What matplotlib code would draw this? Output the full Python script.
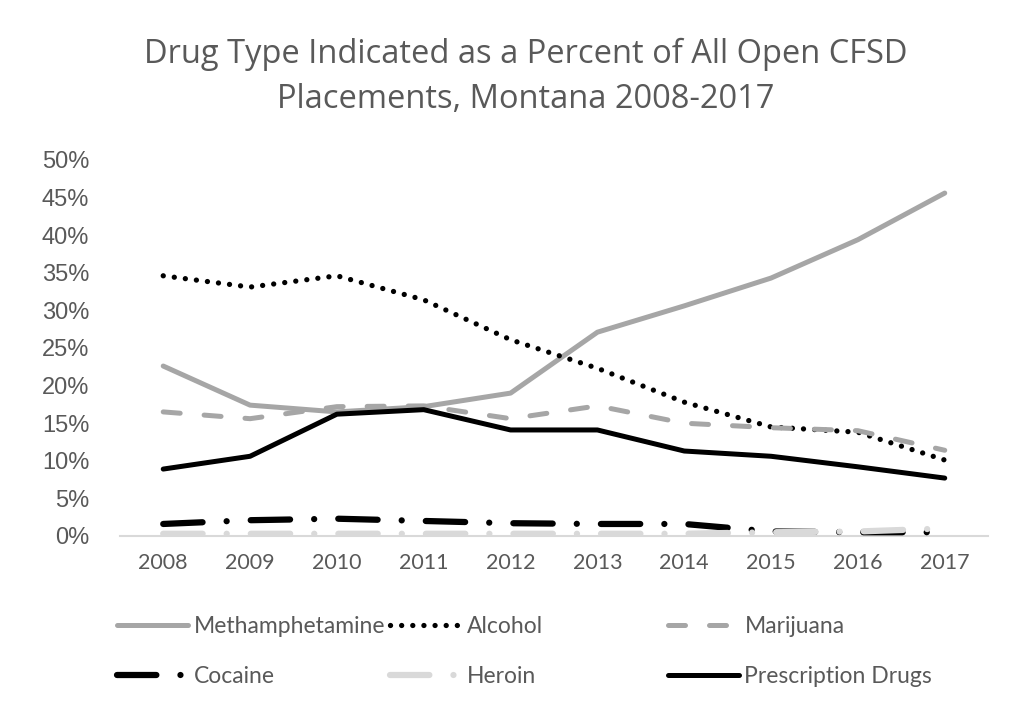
import matplotlib
matplotlib.use('Agg')
import matplotlib.pyplot as plt
from matplotlib.ticker import PercentFormatter

# data (percent of all open placements)
years = [2008, 2009, 2010, 2011, 2012, 2013, 2014, 2015, 2016, 2017]
meth = [22.6, 17.4, 16.5, 17.2, 19.0, 27.1, 30.6, 34.3, 39.4, 45.6]
alcohol = [34.6, 33.1, 34.6, 31.4, 26.1, 22.3, 17.8, 14.5, 13.8, 10.1]
marijuana = [16.5, 15.6, 17.2, 17.3, 15.6, 17.3, 15.0, 14.4, 14.0, 11.4]
cocaine = [1.6, 2.1, 2.3, 2.0, 1.7, 1.6, 1.6, 0.6, 0.5, 0.5]
heroin = [0.3, 0.3, 0.3, 0.3, 0.3, 0.3, 0.3, 0.5, 0.6, 1.0]
prescription = [8.9, 10.6, 16.2, 16.8, 14.1, 14.1, 11.3, 10.6, 9.2, 7.7]

TEXT = '#595959'
GRAY = '#a6a6a6'
LIGHT = '#d9d9d9'

fig = plt.figure(figsize=(10.24, 7.06), dpi=100)
ax = fig.add_axes([0.117, 0.2408, 0.848, 0.5326])

dashdot = (0, (6.3, 3.85, 0.01, 3.85))
l_meth, = ax.plot(years, meth, color=GRAY, lw=3.6, solid_capstyle='round',
                  solid_joinstyle='round', label='Methamphetamine')
l_alc, = ax.plot(years, alcohol, color='black', lw=3.8, linestyle=(0, (0.01, 2.1)),
                 dash_capstyle='round', label='Alcohol')
l_mar, = ax.plot(years, marijuana, color=GRAY, lw=3.6, linestyle=(0, (3.4, 4.8)),
                 dash_capstyle='round', label='Marijuana')
l_coc, = ax.plot(years, cocaine, color='black', lw=4.5, linestyle=dashdot,
                 dash_capstyle='round', label='Cocaine')
l_her, = ax.plot(years, heroin, color=LIGHT, lw=4.5, linestyle=dashdot,
                 dash_capstyle='round', label='Heroin')
l_rx, = ax.plot(years, prescription, color='black', lw=3.6, solid_capstyle='round',
                solid_joinstyle='round', label='Prescription Drugs')

ax.set_xlim(2007.5, 2017.5)
ax.set_ylim(0, 50)
ax.set_xticks(years)
ax.set_yticks(range(0, 51, 5))
ax.yaxis.set_major_formatter(PercentFormatter(decimals=0))

for s in ['top', 'right', 'left']:
    ax.spines[s].set_visible(False)
ax.spines['bottom'].set_color(LIGHT)
ax.spines['bottom'].set_linewidth(1.5)
ax.spines['bottom'].set_zorder(0)
ax.tick_params(axis='both', length=0, colors=TEXT)
ax.tick_params(axis='y', pad=22, labelsize=17)
ax.tick_params(axis='x', pad=12, labelsize=15.5)
for t in ax.get_yticklabels():
    t.set_fontfamily('Liberation Sans')
for t in ax.get_xticklabels():
    t.set_fontfamily('Lato')

fig.text(0.513, 0.891, 'Drug Type Indicated as a Percent of All Open CFSD\nPlacements, Montana 2008-2017',
         ha='center', va='center', fontsize=23.5, color=TEXT, family='Open Sans', linespacing=1.45)

# Excel-style legend: three equal-width columns under the plot
cols = [[l_meth, l_coc], [l_alc, l_her], [l_mar, l_rx]]
xs = [0.114, 0.381, 0.652]
for x, hs in zip(xs, cols):
    leg = fig.legend(handles=hs, loc='upper left', bbox_to_anchor=(x, 0.128),
                     frameon=False, handlelength=3.1, handletextpad=0.25,
                     labelspacing=1.3, borderpad=0, borderaxespad=0,
                     prop={'family': 'Lato', 'size': 16.5})
    for t in leg.get_texts():
        t.set_color(TEXT)

fig.savefig('out.png', dpi=100)
